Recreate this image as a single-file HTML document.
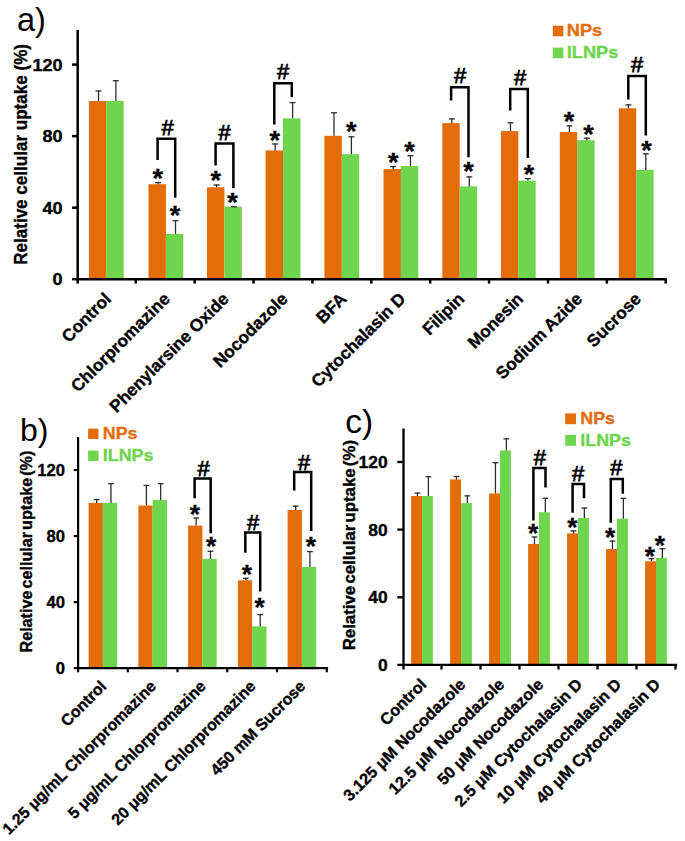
<!DOCTYPE html>
<html><head><meta charset="utf-8"><style>
html,body{margin:0;padding:0;background:#fff;}
body{width:685px;height:841px;overflow:hidden;}
svg{display:block;font-family:"Liberation Sans", sans-serif;}
</style></head><body>
<svg width="685" height="841" viewBox="0 0 685 841">
<rect width="685" height="841" fill="#fff"/>
<rect x="88.9" y="101" width="17.4" height="178.2" fill="#E36C0B"/>
<rect x="106.3" y="101" width="17.4" height="178.2" fill="#6FD44E"/>
<line x1="98.5" y1="101" x2="98.5" y2="90.4" stroke="#2e2e2e" stroke-width="1.3" stroke-linecap="butt"/>
<line x1="95.5" y1="91" x2="101.5" y2="91" stroke="#2e2e2e" stroke-width="1.3" stroke-linecap="butt"/>
<line x1="115.9" y1="101" x2="115.9" y2="80.1" stroke="#2e2e2e" stroke-width="1.3" stroke-linecap="butt"/>
<line x1="112.9" y1="80.7" x2="118.9" y2="80.7" stroke="#2e2e2e" stroke-width="1.3" stroke-linecap="butt"/>
<rect x="148.5" y="184.2" width="17.4" height="95" fill="#E36C0B"/>
<rect x="165.9" y="234" width="17.4" height="45.2" fill="#6FD44E"/>
<line x1="158.1" y1="184.2" x2="158.1" y2="182" stroke="#2e2e2e" stroke-width="1.3" stroke-linecap="butt"/>
<line x1="155.1" y1="182.6" x2="161.1" y2="182.6" stroke="#2e2e2e" stroke-width="1.3" stroke-linecap="butt"/>
<line x1="175.5" y1="234" x2="175.5" y2="220.1" stroke="#2e2e2e" stroke-width="1.3" stroke-linecap="butt"/>
<line x1="172.5" y1="220.7" x2="178.5" y2="220.7" stroke="#2e2e2e" stroke-width="1.3" stroke-linecap="butt"/>
<rect x="207" y="187.3" width="17.4" height="91.9" fill="#E36C0B"/>
<rect x="224.4" y="206.6" width="17.4" height="72.6" fill="#6FD44E"/>
<line x1="216.6" y1="187.3" x2="216.6" y2="184.4" stroke="#2e2e2e" stroke-width="1.3" stroke-linecap="butt"/>
<line x1="213.6" y1="185" x2="219.6" y2="185" stroke="#2e2e2e" stroke-width="1.3" stroke-linecap="butt"/>
<line x1="234" y1="206.6" x2="234" y2="206.2" stroke="#2e2e2e" stroke-width="1.3" stroke-linecap="butt"/>
<line x1="231" y1="206.8" x2="237" y2="206.8" stroke="#2e2e2e" stroke-width="1.3" stroke-linecap="butt"/>
<rect x="265.6" y="150.4" width="17.4" height="128.8" fill="#E36C0B"/>
<rect x="283" y="118.3" width="17.4" height="160.9" fill="#6FD44E"/>
<line x1="275.2" y1="150.4" x2="275.2" y2="143.4" stroke="#2e2e2e" stroke-width="1.3" stroke-linecap="butt"/>
<line x1="272.2" y1="144" x2="278.2" y2="144" stroke="#2e2e2e" stroke-width="1.3" stroke-linecap="butt"/>
<line x1="292.6" y1="118.3" x2="292.6" y2="102" stroke="#2e2e2e" stroke-width="1.3" stroke-linecap="butt"/>
<line x1="289.6" y1="102.6" x2="295.6" y2="102.6" stroke="#2e2e2e" stroke-width="1.3" stroke-linecap="butt"/>
<rect x="324.4" y="135.8" width="17.4" height="143.4" fill="#E36C0B"/>
<rect x="341.8" y="154.2" width="17.4" height="125" fill="#6FD44E"/>
<line x1="334" y1="135.8" x2="334" y2="112.2" stroke="#2e2e2e" stroke-width="1.3" stroke-linecap="butt"/>
<line x1="331" y1="112.8" x2="337" y2="112.8" stroke="#2e2e2e" stroke-width="1.3" stroke-linecap="butt"/>
<line x1="351.4" y1="154.2" x2="351.4" y2="136.2" stroke="#2e2e2e" stroke-width="1.3" stroke-linecap="butt"/>
<line x1="348.4" y1="136.8" x2="354.4" y2="136.8" stroke="#2e2e2e" stroke-width="1.3" stroke-linecap="butt"/>
<rect x="383.5" y="169.1" width="17.4" height="110.1" fill="#E36C0B"/>
<rect x="400.9" y="166" width="17.4" height="113.2" fill="#6FD44E"/>
<line x1="393.1" y1="169.1" x2="393.1" y2="166" stroke="#2e2e2e" stroke-width="1.3" stroke-linecap="butt"/>
<line x1="390.1" y1="166.6" x2="396.1" y2="166.6" stroke="#2e2e2e" stroke-width="1.3" stroke-linecap="butt"/>
<line x1="410.5" y1="166" x2="410.5" y2="155.1" stroke="#2e2e2e" stroke-width="1.3" stroke-linecap="butt"/>
<line x1="407.5" y1="155.7" x2="413.5" y2="155.7" stroke="#2e2e2e" stroke-width="1.3" stroke-linecap="butt"/>
<rect x="442.3" y="123.1" width="17.4" height="156.1" fill="#E36C0B"/>
<rect x="459.7" y="186.4" width="17.4" height="92.8" fill="#6FD44E"/>
<line x1="451.9" y1="123.1" x2="451.9" y2="118.3" stroke="#2e2e2e" stroke-width="1.3" stroke-linecap="butt"/>
<line x1="448.9" y1="118.9" x2="454.9" y2="118.9" stroke="#2e2e2e" stroke-width="1.3" stroke-linecap="butt"/>
<line x1="469.3" y1="186.4" x2="469.3" y2="176.3" stroke="#2e2e2e" stroke-width="1.3" stroke-linecap="butt"/>
<line x1="466.3" y1="176.9" x2="472.3" y2="176.9" stroke="#2e2e2e" stroke-width="1.3" stroke-linecap="butt"/>
<rect x="500.9" y="131.1" width="17.4" height="148.1" fill="#E36C0B"/>
<rect x="518.3" y="180.6" width="17.4" height="98.6" fill="#6FD44E"/>
<line x1="510.5" y1="131.1" x2="510.5" y2="122.2" stroke="#2e2e2e" stroke-width="1.3" stroke-linecap="butt"/>
<line x1="507.5" y1="122.8" x2="513.5" y2="122.8" stroke="#2e2e2e" stroke-width="1.3" stroke-linecap="butt"/>
<line x1="527.9" y1="180.6" x2="527.9" y2="178" stroke="#2e2e2e" stroke-width="1.3" stroke-linecap="butt"/>
<line x1="524.9" y1="178.6" x2="530.9" y2="178.6" stroke="#2e2e2e" stroke-width="1.3" stroke-linecap="butt"/>
<rect x="559.8" y="132" width="17.4" height="147.2" fill="#E36C0B"/>
<rect x="577.2" y="140.2" width="17.4" height="139" fill="#6FD44E"/>
<line x1="569.4" y1="132" x2="569.4" y2="125.3" stroke="#2e2e2e" stroke-width="1.3" stroke-linecap="butt"/>
<line x1="566.4" y1="125.9" x2="572.4" y2="125.9" stroke="#2e2e2e" stroke-width="1.3" stroke-linecap="butt"/>
<line x1="586.8" y1="140.2" x2="586.8" y2="137.6" stroke="#2e2e2e" stroke-width="1.3" stroke-linecap="butt"/>
<line x1="583.8" y1="138.2" x2="589.8" y2="138.2" stroke="#2e2e2e" stroke-width="1.3" stroke-linecap="butt"/>
<rect x="618.8" y="108.3" width="17.4" height="170.9" fill="#E36C0B"/>
<rect x="636.2" y="169.9" width="17.4" height="109.3" fill="#6FD44E"/>
<line x1="628.4" y1="108.3" x2="628.4" y2="104.3" stroke="#2e2e2e" stroke-width="1.3" stroke-linecap="butt"/>
<line x1="625.4" y1="104.9" x2="631.4" y2="104.9" stroke="#2e2e2e" stroke-width="1.3" stroke-linecap="butt"/>
<line x1="645.8" y1="169.9" x2="645.8" y2="153.3" stroke="#2e2e2e" stroke-width="1.3" stroke-linecap="butt"/>
<line x1="642.8" y1="153.9" x2="648.8" y2="153.9" stroke="#2e2e2e" stroke-width="1.3" stroke-linecap="butt"/>
<line x1="77.7" y1="30" x2="77.7" y2="280.45" stroke="#000" stroke-width="2.5" stroke-linecap="butt"/>
<line x1="76.45" y1="279.2" x2="666.75" y2="279.2" stroke="#000" stroke-width="2.5" stroke-linecap="butt"/>
<line x1="72.1" y1="279.2" x2="77.7" y2="279.2" stroke="#000" stroke-width="2.5" stroke-linecap="butt"/>
<text x="0" y="0" font-size="17.2" font-weight="bold" text-anchor="end" fill="#000"  transform="translate(62.6 285.39) scale(1.05 1)" stroke="#000" stroke-width="0.35">0</text>
<line x1="72.1" y1="207.7" x2="77.7" y2="207.7" stroke="#000" stroke-width="2.5" stroke-linecap="butt"/>
<text x="0" y="0" font-size="17.2" font-weight="bold" text-anchor="end" fill="#000"  transform="translate(62.6 213.89) scale(1.05 1)" stroke="#000" stroke-width="0.35">40</text>
<line x1="72.1" y1="136.1" x2="77.7" y2="136.1" stroke="#000" stroke-width="2.5" stroke-linecap="butt"/>
<text x="0" y="0" font-size="17.2" font-weight="bold" text-anchor="end" fill="#000"  transform="translate(62.6 142.29) scale(1.05 1)" stroke="#000" stroke-width="0.35">80</text>
<line x1="72.1" y1="64.6" x2="77.7" y2="64.6" stroke="#000" stroke-width="2.5" stroke-linecap="butt"/>
<text x="0" y="0" font-size="17.2" font-weight="bold" text-anchor="end" fill="#000"  transform="translate(62.6 70.79) scale(1.05 1)" stroke="#000" stroke-width="0.35">120</text>
<line x1="77.7" y1="279.2" x2="77.7" y2="283.6" stroke="#000" stroke-width="2.5" stroke-linecap="butt"/>
<line x1="135.79" y1="279.2" x2="135.79" y2="283.6" stroke="#000" stroke-width="2.5" stroke-linecap="butt"/>
<line x1="194.67" y1="279.2" x2="194.67" y2="283.6" stroke="#000" stroke-width="2.5" stroke-linecap="butt"/>
<line x1="253.55" y1="279.2" x2="253.55" y2="283.6" stroke="#000" stroke-width="2.5" stroke-linecap="butt"/>
<line x1="312.43" y1="279.2" x2="312.43" y2="283.6" stroke="#000" stroke-width="2.5" stroke-linecap="butt"/>
<line x1="371.31" y1="279.2" x2="371.31" y2="283.6" stroke="#000" stroke-width="2.5" stroke-linecap="butt"/>
<line x1="430.19" y1="279.2" x2="430.19" y2="283.6" stroke="#000" stroke-width="2.5" stroke-linecap="butt"/>
<line x1="489.07" y1="279.2" x2="489.07" y2="283.6" stroke="#000" stroke-width="2.5" stroke-linecap="butt"/>
<line x1="547.95" y1="279.2" x2="547.95" y2="283.6" stroke="#000" stroke-width="2.5" stroke-linecap="butt"/>
<line x1="606.83" y1="279.2" x2="606.83" y2="283.6" stroke="#000" stroke-width="2.5" stroke-linecap="butt"/>
<line x1="665.71" y1="279.2" x2="665.71" y2="283.6" stroke="#000" stroke-width="2.5" stroke-linecap="butt"/>
<text x="0" y="0" font-size="17.3" font-weight="bold" text-anchor="end" fill="#000" transform="translate(112.15 300) rotate(-45)" stroke="#000" stroke-width="0.35">Control</text>
<text x="0" y="0" font-size="17.3" font-weight="bold" text-anchor="end" fill="#000" transform="translate(171.03 300) rotate(-45)" stroke="#000" stroke-width="0.35">Chlorpromazine</text>
<text x="0" y="0" font-size="17.3" font-weight="bold" text-anchor="end" fill="#000" transform="translate(229.91 300) rotate(-45)" stroke="#000" stroke-width="0.35">Phenylarsine Oxide</text>
<text x="0" y="0" font-size="17.3" font-weight="bold" text-anchor="end" fill="#000" transform="translate(288.79 300) rotate(-45)" stroke="#000" stroke-width="0.35">Nocodazole</text>
<text x="0" y="0" font-size="17.3" font-weight="bold" text-anchor="end" fill="#000" transform="translate(347.67 300) rotate(-45)" stroke="#000" stroke-width="0.35">BFA</text>
<text x="0" y="0" font-size="17.3" font-weight="bold" text-anchor="end" fill="#000" transform="translate(406.55 300) rotate(-45)" stroke="#000" stroke-width="0.35">Cytochalasin D</text>
<text x="0" y="0" font-size="17.3" font-weight="bold" text-anchor="end" fill="#000" transform="translate(465.43 300) rotate(-45)" stroke="#000" stroke-width="0.35">Filipin</text>
<text x="0" y="0" font-size="17.3" font-weight="bold" text-anchor="end" fill="#000" transform="translate(524.31 300) rotate(-45)" stroke="#000" stroke-width="0.35">Monesin</text>
<text x="0" y="0" font-size="17.3" font-weight="bold" text-anchor="end" fill="#000" transform="translate(583.19 300) rotate(-45)" stroke="#000" stroke-width="0.35">Sodium Azide</text>
<text x="0" y="0" font-size="17.3" font-weight="bold" text-anchor="end" fill="#000" transform="translate(642.07 300) rotate(-45)" stroke="#000" stroke-width="0.35">Sucrose</text>
<text x="0" y="0" font-size="17.3" font-weight="bold" text-anchor="start" fill="#000" transform="translate(27.2 264.8) scale(1.06 1) rotate(-90)" textLength="220.8" lengthAdjust="spacingAndGlyphs" word-spacing="0" stroke="#000" stroke-width="0.35">Relative cellular uptake (%)</text>
<text x="17" y="31" font-size="32.5" font-weight="normal" text-anchor="start" fill="#000" >a)</text>
<rect x="552.8" y="25.7" width="10.6" height="10.6" fill="#E36C0B"/>
<rect x="552.8" y="47.6" width="10.6" height="10.6" fill="#6FD44E"/>
<text x="0" y="0" font-size="17.3" font-weight="bold" text-anchor="start" fill="#E36C0B"  transform="translate(566.8 36.3) scale(1.05 1)" stroke="#E36C0B" stroke-width="0.35">NPs</text>
<text x="0" y="0" font-size="17.3" font-weight="bold" text-anchor="start" fill="#6FD44E"  transform="translate(566.8 58.2) scale(1.05 1)" stroke="#6FD44E" stroke-width="0.35">ILNPs</text>
<path d="M157.6 159.9 L157.6 138.7 L175.2 138.7 L175.2 197.7" fill="none" stroke="#000" stroke-width="2.5" stroke-linejoin="miter"/>
<text x="167.5" y="134.5" font-size="22" font-weight="normal" text-anchor="middle" fill="#000" stroke="#000" stroke-width="0.75">#</text>
<path d="M215.6 165.4 L215.6 143.4 L233.4 143.4 L233.4 188.3" fill="none" stroke="#000" stroke-width="2.5" stroke-linejoin="miter"/>
<text x="224.7" y="140.1" font-size="22" font-weight="normal" text-anchor="middle" fill="#000" stroke="#000" stroke-width="0.75">#</text>
<path d="M274.3 124.5 L274.3 83.3 L291.8 83.3 L291.8 97.3" fill="none" stroke="#000" stroke-width="2.5" stroke-linejoin="miter"/>
<text x="283" y="78.9" font-size="22" font-weight="normal" text-anchor="middle" fill="#000" stroke="#000" stroke-width="0.75">#</text>
<path d="M451.1 100.5 L451.1 87.3 L468.5 87.3 L468.5 157.2" fill="none" stroke="#000" stroke-width="2.5" stroke-linejoin="miter"/>
<text x="460" y="82.9" font-size="22" font-weight="normal" text-anchor="middle" fill="#000" stroke="#000" stroke-width="0.75">#</text>
<path d="M510.2 110.4 L510.2 88.9 L527.8 88.9 L527.8 158" fill="none" stroke="#000" stroke-width="2.5" stroke-linejoin="miter"/>
<text x="520" y="84.7" font-size="22" font-weight="normal" text-anchor="middle" fill="#000" stroke="#000" stroke-width="0.75">#</text>
<path d="M628.3 99.6 L628.3 75.9 L645.8 75.9 L645.8 135.5" fill="none" stroke="#000" stroke-width="2.5" stroke-linejoin="miter"/>
<text x="637.2" y="72.4" font-size="22" font-weight="normal" text-anchor="middle" fill="#000" stroke="#000" stroke-width="0.75">#</text>
<text x="0" y="0" font-size="25.5" font-weight="bold" text-anchor="middle" fill="#000"  transform="translate(157.7 186.7) scale(1.06 1)" stroke="#000" stroke-width="0.35">*</text>
<text x="0" y="0" font-size="25.5" font-weight="bold" text-anchor="middle" fill="#000"  transform="translate(175 224.1) scale(1.06 1)" stroke="#000" stroke-width="0.35">*</text>
<text x="0" y="0" font-size="25.5" font-weight="bold" text-anchor="middle" fill="#000"  transform="translate(215.7 188.9) scale(1.06 1)" stroke="#000" stroke-width="0.35">*</text>
<text x="0" y="0" font-size="25.5" font-weight="bold" text-anchor="middle" fill="#000"  transform="translate(232.4 210.7) scale(1.06 1)" stroke="#000" stroke-width="0.35">*</text>
<text x="0" y="0" font-size="25.5" font-weight="bold" text-anchor="middle" fill="#000"  transform="translate(274.7 148.5) scale(1.06 1)" stroke="#000" stroke-width="0.35">*</text>
<text x="0" y="0" font-size="25.5" font-weight="bold" text-anchor="middle" fill="#000"  transform="translate(351.3 139.9) scale(1.06 1)" stroke="#000" stroke-width="0.35">*</text>
<text x="0" y="0" font-size="25.5" font-weight="bold" text-anchor="middle" fill="#000"  transform="translate(393.2 171) scale(1.06 1)" stroke="#000" stroke-width="0.35">*</text>
<text x="0" y="0" font-size="25.5" font-weight="bold" text-anchor="middle" fill="#000"  transform="translate(409.4 159.7) scale(1.06 1)" stroke="#000" stroke-width="0.35">*</text>
<text x="0" y="0" font-size="25.5" font-weight="bold" text-anchor="middle" fill="#000"  transform="translate(468.5 180.2) scale(1.06 1)" stroke="#000" stroke-width="0.35">*</text>
<text x="0" y="0" font-size="25.5" font-weight="bold" text-anchor="middle" fill="#000"  transform="translate(529 182.7) scale(1.06 1)" stroke="#000" stroke-width="0.35">*</text>
<text x="0" y="0" font-size="25.5" font-weight="bold" text-anchor="middle" fill="#000"  transform="translate(569.1 130.2) scale(1.06 1)" stroke="#000" stroke-width="0.35">*</text>
<text x="0" y="0" font-size="25.5" font-weight="bold" text-anchor="middle" fill="#000"  transform="translate(588.5 142.5) scale(1.06 1)" stroke="#000" stroke-width="0.35">*</text>
<text x="0" y="0" font-size="25.5" font-weight="bold" text-anchor="middle" fill="#000"  transform="translate(646.4 158.5) scale(1.06 1)" stroke="#000" stroke-width="0.35">*</text>
<rect x="88.6" y="502.9" width="14.3" height="165.2" fill="#E36C0B"/>
<rect x="102.9" y="502.9" width="14.3" height="165.2" fill="#6FD44E"/>
<line x1="96.65" y1="502.9" x2="96.65" y2="498.9" stroke="#2e2e2e" stroke-width="1.3" stroke-linecap="butt"/>
<line x1="93.8" y1="499.5" x2="99.5" y2="499.5" stroke="#2e2e2e" stroke-width="1.3" stroke-linecap="butt"/>
<line x1="110.95" y1="502.9" x2="110.95" y2="483.1" stroke="#2e2e2e" stroke-width="1.3" stroke-linecap="butt"/>
<line x1="108.1" y1="483.7" x2="113.8" y2="483.7" stroke="#2e2e2e" stroke-width="1.3" stroke-linecap="butt"/>
<rect x="138.35" y="505.5" width="14.3" height="162.6" fill="#E36C0B"/>
<rect x="152.65" y="499.9" width="14.3" height="168.2" fill="#6FD44E"/>
<line x1="146.4" y1="505.5" x2="146.4" y2="484.9" stroke="#2e2e2e" stroke-width="1.3" stroke-linecap="butt"/>
<line x1="143.55" y1="485.5" x2="149.25" y2="485.5" stroke="#2e2e2e" stroke-width="1.3" stroke-linecap="butt"/>
<line x1="160.7" y1="499.9" x2="160.7" y2="483.1" stroke="#2e2e2e" stroke-width="1.3" stroke-linecap="butt"/>
<line x1="157.85" y1="483.7" x2="163.55" y2="483.7" stroke="#2e2e2e" stroke-width="1.3" stroke-linecap="butt"/>
<rect x="188.1" y="525.6" width="14.3" height="142.5" fill="#E36C0B"/>
<rect x="202.4" y="559" width="14.3" height="109.1" fill="#6FD44E"/>
<line x1="196.15" y1="525.6" x2="196.15" y2="517.4" stroke="#2e2e2e" stroke-width="1.3" stroke-linecap="butt"/>
<line x1="193.3" y1="518" x2="199" y2="518" stroke="#2e2e2e" stroke-width="1.3" stroke-linecap="butt"/>
<line x1="210.45" y1="559" x2="210.45" y2="550.7" stroke="#2e2e2e" stroke-width="1.3" stroke-linecap="butt"/>
<line x1="207.6" y1="551.3" x2="213.3" y2="551.3" stroke="#2e2e2e" stroke-width="1.3" stroke-linecap="butt"/>
<rect x="237.85" y="580.3" width="14.3" height="87.8" fill="#E36C0B"/>
<rect x="252.15" y="626.4" width="14.3" height="41.7" fill="#6FD44E"/>
<line x1="245.9" y1="580.3" x2="245.9" y2="577.7" stroke="#2e2e2e" stroke-width="1.3" stroke-linecap="butt"/>
<line x1="243.05" y1="578.3" x2="248.75" y2="578.3" stroke="#2e2e2e" stroke-width="1.3" stroke-linecap="butt"/>
<line x1="260.2" y1="626.4" x2="260.2" y2="614" stroke="#2e2e2e" stroke-width="1.3" stroke-linecap="butt"/>
<line x1="257.35" y1="614.6" x2="263.05" y2="614.6" stroke="#2e2e2e" stroke-width="1.3" stroke-linecap="butt"/>
<rect x="287.6" y="509.9" width="14.3" height="158.2" fill="#E36C0B"/>
<rect x="301.9" y="567" width="14.3" height="101.1" fill="#6FD44E"/>
<line x1="295.65" y1="509.9" x2="295.65" y2="505.6" stroke="#2e2e2e" stroke-width="1.3" stroke-linecap="butt"/>
<line x1="292.8" y1="506.2" x2="298.5" y2="506.2" stroke="#2e2e2e" stroke-width="1.3" stroke-linecap="butt"/>
<line x1="309.95" y1="567" x2="309.95" y2="551" stroke="#2e2e2e" stroke-width="1.3" stroke-linecap="butt"/>
<line x1="307.1" y1="551.6" x2="312.8" y2="551.6" stroke="#2e2e2e" stroke-width="1.3" stroke-linecap="butt"/>
<line x1="78.1" y1="437" x2="78.1" y2="669.2" stroke="#000" stroke-width="2.2" stroke-linecap="butt"/>
<line x1="77" y1="668.1" x2="328.1" y2="668.1" stroke="#000" stroke-width="2.2" stroke-linecap="butt"/>
<line x1="73.7" y1="668.1" x2="78.1" y2="668.1" stroke="#000" stroke-width="2.2" stroke-linecap="butt"/>
<text x="0" y="0" font-size="16" font-weight="bold" text-anchor="end" fill="#000"  transform="translate(65 673.86) scale(1.04 1)" stroke="#000" stroke-width="0.35">0</text>
<line x1="73.7" y1="602.1" x2="78.1" y2="602.1" stroke="#000" stroke-width="2.2" stroke-linecap="butt"/>
<text x="0" y="0" font-size="16" font-weight="bold" text-anchor="end" fill="#000"  transform="translate(65 607.86) scale(1.04 1)" stroke="#000" stroke-width="0.35">40</text>
<line x1="73.7" y1="536.1" x2="78.1" y2="536.1" stroke="#000" stroke-width="2.2" stroke-linecap="butt"/>
<text x="0" y="0" font-size="16" font-weight="bold" text-anchor="end" fill="#000"  transform="translate(65 541.86) scale(1.04 1)" stroke="#000" stroke-width="0.35">80</text>
<line x1="73.7" y1="470" x2="78.1" y2="470" stroke="#000" stroke-width="2.2" stroke-linecap="butt"/>
<text x="0" y="0" font-size="16" font-weight="bold" text-anchor="end" fill="#000"  transform="translate(65 475.76) scale(1.04 1)" stroke="#000" stroke-width="0.35">120</text>
<line x1="78.1" y1="668.1" x2="78.1" y2="672.3" stroke="#000" stroke-width="2.2" stroke-linecap="butt"/>
<line x1="127.78" y1="668.1" x2="127.78" y2="672.3" stroke="#000" stroke-width="2.2" stroke-linecap="butt"/>
<line x1="177.53" y1="668.1" x2="177.53" y2="672.3" stroke="#000" stroke-width="2.2" stroke-linecap="butt"/>
<line x1="227.28" y1="668.1" x2="227.28" y2="672.3" stroke="#000" stroke-width="2.2" stroke-linecap="butt"/>
<line x1="277.02" y1="668.1" x2="277.02" y2="672.3" stroke="#000" stroke-width="2.2" stroke-linecap="butt"/>
<line x1="326.77" y1="668.1" x2="326.77" y2="672.3" stroke="#000" stroke-width="2.2" stroke-linecap="butt"/>
<text x="0" y="0" font-size="16" font-weight="bold" text-anchor="end" fill="#000" transform="translate(107.4 687.3) rotate(-45)" stroke="#000" stroke-width="0.35">Control</text>
<text x="0" y="0" font-size="16" font-weight="bold" text-anchor="end" fill="#000" transform="translate(157.15 687.3) rotate(-45)" stroke="#000" stroke-width="0.35">1.25 μg/mL Chlorpromazine</text>
<text x="0" y="0" font-size="16" font-weight="bold" text-anchor="end" fill="#000" transform="translate(206.9 687.3) rotate(-45)" stroke="#000" stroke-width="0.35">5 μg/mL Chlorpromazine</text>
<text x="0" y="0" font-size="16" font-weight="bold" text-anchor="end" fill="#000" transform="translate(256.65 687.3) rotate(-45)" stroke="#000" stroke-width="0.35">20 μg/mL Chlorpromazine</text>
<text x="0" y="0" font-size="16" font-weight="bold" text-anchor="end" fill="#000" transform="translate(306.4 687.3) rotate(-45)" stroke="#000" stroke-width="0.35">450 mM Sucrose</text>
<text x="0" y="0" font-size="15.5" font-weight="bold" text-anchor="start" fill="#000" transform="translate(31.6 652.5) scale(1.07 1) rotate(-90)" textLength="201.8" lengthAdjust="spacingAndGlyphs" word-spacing="-2.3" stroke="#000" stroke-width="0.35">Relative cellular uptake (%)</text>
<text x="20" y="441.4" font-size="32" font-weight="normal" text-anchor="start" fill="#000" >b)</text>
<rect x="88.1" y="428.6" width="10.4" height="10.4" fill="#E36C0B"/>
<rect x="88.1" y="450.6" width="10.4" height="10.4" fill="#6FD44E"/>
<text x="0" y="0" font-size="17" font-weight="bold" text-anchor="start" fill="#E36C0B"  transform="translate(102.8 439) scale(1.05 1)" stroke="#E36C0B" stroke-width="0.35">NPs</text>
<text x="0" y="0" font-size="17" font-weight="bold" text-anchor="start" fill="#6FD44E"  transform="translate(102.8 461) scale(1.05 1)" stroke="#6FD44E" stroke-width="0.35">ILNPs</text>
<path d="M194.6 498.2 L194.6 478.5 L210.7 478.5 L210.7 533.2" fill="none" stroke="#000" stroke-width="2.5" stroke-linejoin="miter"/>
<text x="203.7" y="476.3" font-size="22" font-weight="normal" text-anchor="middle" fill="#000" stroke="#000" stroke-width="0.75">#</text>
<path d="M245.3 552.8 L245.3 532.5 L260.2 532.5 L260.2 591.5" fill="none" stroke="#000" stroke-width="2.5" stroke-linejoin="miter"/>
<text x="253.1" y="529.6" font-size="22" font-weight="normal" text-anchor="middle" fill="#000" stroke="#000" stroke-width="0.75">#</text>
<path d="M294.2 490.6 L294.2 472 L311.2 472 L311.2 531.1" fill="none" stroke="#000" stroke-width="2.5" stroke-linejoin="miter"/>
<text x="304" y="469.6" font-size="22" font-weight="normal" text-anchor="middle" fill="#000" stroke="#000" stroke-width="0.75">#</text>
<text x="0" y="0" font-size="25" font-weight="bold" text-anchor="middle" fill="#000"  transform="translate(194.8 522.5) scale(1.05 1)" stroke="#000" stroke-width="0.35">*</text>
<text x="0" y="0" font-size="25" font-weight="bold" text-anchor="middle" fill="#000"  transform="translate(211 555) scale(1.05 1)" stroke="#000" stroke-width="0.35">*</text>
<text x="0" y="0" font-size="25" font-weight="bold" text-anchor="middle" fill="#000"  transform="translate(246.9 583) scale(1.05 1)" stroke="#000" stroke-width="0.35">*</text>
<text x="0" y="0" font-size="25" font-weight="bold" text-anchor="middle" fill="#000"  transform="translate(259.5 616) scale(1.05 1)" stroke="#000" stroke-width="0.35">*</text>
<text x="0" y="0" font-size="25" font-weight="bold" text-anchor="middle" fill="#000"  transform="translate(310.9 555) scale(1.05 1)" stroke="#000" stroke-width="0.35">*</text>
<rect x="411.1" y="496" width="10.9" height="168.9" fill="#E36C0B"/>
<rect x="422" y="496" width="10.9" height="168.9" fill="#6FD44E"/>
<line x1="417.45" y1="496" x2="417.45" y2="492.5" stroke="#2e2e2e" stroke-width="1.3" stroke-linecap="butt"/>
<line x1="414.55" y1="493.1" x2="420.35" y2="493.1" stroke="#2e2e2e" stroke-width="1.3" stroke-linecap="butt"/>
<line x1="428.35" y1="496" x2="428.35" y2="476.1" stroke="#2e2e2e" stroke-width="1.3" stroke-linecap="butt"/>
<line x1="425.45" y1="476.7" x2="431.25" y2="476.7" stroke="#2e2e2e" stroke-width="1.3" stroke-linecap="butt"/>
<rect x="450.1" y="479.4" width="10.9" height="185.5" fill="#E36C0B"/>
<rect x="461" y="503.1" width="10.9" height="161.8" fill="#6FD44E"/>
<line x1="456.45" y1="479.4" x2="456.45" y2="475.9" stroke="#2e2e2e" stroke-width="1.3" stroke-linecap="butt"/>
<line x1="453.55" y1="476.5" x2="459.35" y2="476.5" stroke="#2e2e2e" stroke-width="1.3" stroke-linecap="butt"/>
<line x1="467.35" y1="503.1" x2="467.35" y2="495.3" stroke="#2e2e2e" stroke-width="1.3" stroke-linecap="butt"/>
<line x1="464.45" y1="495.9" x2="470.25" y2="495.9" stroke="#2e2e2e" stroke-width="1.3" stroke-linecap="butt"/>
<rect x="489.1" y="493.4" width="10.9" height="171.5" fill="#E36C0B"/>
<rect x="500" y="450.5" width="10.9" height="214.4" fill="#6FD44E"/>
<line x1="495.45" y1="493.4" x2="495.45" y2="462.1" stroke="#2e2e2e" stroke-width="1.3" stroke-linecap="butt"/>
<line x1="492.55" y1="462.7" x2="498.35" y2="462.7" stroke="#2e2e2e" stroke-width="1.3" stroke-linecap="butt"/>
<line x1="506.35" y1="450.5" x2="506.35" y2="438.2" stroke="#2e2e2e" stroke-width="1.3" stroke-linecap="butt"/>
<line x1="503.45" y1="438.8" x2="509.25" y2="438.8" stroke="#2e2e2e" stroke-width="1.3" stroke-linecap="butt"/>
<rect x="528.1" y="544" width="10.9" height="120.9" fill="#E36C0B"/>
<rect x="539" y="512.3" width="10.9" height="152.6" fill="#6FD44E"/>
<line x1="534.45" y1="544" x2="534.45" y2="536.4" stroke="#2e2e2e" stroke-width="1.3" stroke-linecap="butt"/>
<line x1="531.55" y1="537" x2="537.35" y2="537" stroke="#2e2e2e" stroke-width="1.3" stroke-linecap="butt"/>
<line x1="545.35" y1="512.3" x2="545.35" y2="497.7" stroke="#2e2e2e" stroke-width="1.3" stroke-linecap="butt"/>
<line x1="542.45" y1="498.3" x2="548.25" y2="498.3" stroke="#2e2e2e" stroke-width="1.3" stroke-linecap="butt"/>
<rect x="567.1" y="533.4" width="10.9" height="131.5" fill="#E36C0B"/>
<rect x="578" y="518" width="10.9" height="146.9" fill="#6FD44E"/>
<line x1="573.45" y1="533.4" x2="573.45" y2="530.3" stroke="#2e2e2e" stroke-width="1.3" stroke-linecap="butt"/>
<line x1="570.55" y1="530.9" x2="576.35" y2="530.9" stroke="#2e2e2e" stroke-width="1.3" stroke-linecap="butt"/>
<line x1="584.35" y1="518" x2="584.35" y2="507.5" stroke="#2e2e2e" stroke-width="1.3" stroke-linecap="butt"/>
<line x1="581.45" y1="508.1" x2="587.25" y2="508.1" stroke="#2e2e2e" stroke-width="1.3" stroke-linecap="butt"/>
<rect x="606.1" y="549.1" width="10.9" height="115.8" fill="#E36C0B"/>
<rect x="617" y="518.7" width="10.9" height="146.2" fill="#6FD44E"/>
<line x1="612.45" y1="549.1" x2="612.45" y2="540.5" stroke="#2e2e2e" stroke-width="1.3" stroke-linecap="butt"/>
<line x1="609.55" y1="541.1" x2="615.35" y2="541.1" stroke="#2e2e2e" stroke-width="1.3" stroke-linecap="butt"/>
<line x1="623.35" y1="518.7" x2="623.35" y2="497.8" stroke="#2e2e2e" stroke-width="1.3" stroke-linecap="butt"/>
<line x1="620.45" y1="498.4" x2="626.25" y2="498.4" stroke="#2e2e2e" stroke-width="1.3" stroke-linecap="butt"/>
<rect x="645.1" y="561.3" width="10.9" height="103.6" fill="#E36C0B"/>
<rect x="656" y="558" width="10.9" height="106.9" fill="#6FD44E"/>
<line x1="651.45" y1="561.3" x2="651.45" y2="558" stroke="#2e2e2e" stroke-width="1.3" stroke-linecap="butt"/>
<line x1="648.55" y1="558.6" x2="654.35" y2="558.6" stroke="#2e2e2e" stroke-width="1.3" stroke-linecap="butt"/>
<line x1="662.35" y1="558" x2="662.35" y2="548.1" stroke="#2e2e2e" stroke-width="1.3" stroke-linecap="butt"/>
<line x1="659.45" y1="548.7" x2="665.25" y2="548.7" stroke="#2e2e2e" stroke-width="1.3" stroke-linecap="butt"/>
<line x1="403.5" y1="428.5" x2="403.5" y2="666.05" stroke="#000" stroke-width="2.3" stroke-linecap="butt"/>
<line x1="402.35" y1="664.9" x2="677.15" y2="664.9" stroke="#000" stroke-width="2.3" stroke-linecap="butt"/>
<line x1="397.3" y1="664.9" x2="403.5" y2="664.9" stroke="#000" stroke-width="2.3" stroke-linecap="butt"/>
<text x="0" y="0" font-size="16.6" font-weight="bold" text-anchor="end" fill="#000"  transform="translate(387.6 670.88) scale(1.05 1)" stroke="#000" stroke-width="0.35">0</text>
<line x1="397.3" y1="597.3" x2="403.5" y2="597.3" stroke="#000" stroke-width="2.3" stroke-linecap="butt"/>
<text x="0" y="0" font-size="16.6" font-weight="bold" text-anchor="end" fill="#000"  transform="translate(387.6 603.28) scale(1.05 1)" stroke="#000" stroke-width="0.35">40</text>
<line x1="397.3" y1="529.6" x2="403.5" y2="529.6" stroke="#000" stroke-width="2.3" stroke-linecap="butt"/>
<text x="0" y="0" font-size="16.6" font-weight="bold" text-anchor="end" fill="#000"  transform="translate(387.6 535.58) scale(1.05 1)" stroke="#000" stroke-width="0.35">80</text>
<line x1="397.3" y1="462" x2="403.5" y2="462" stroke="#000" stroke-width="2.3" stroke-linecap="butt"/>
<text x="0" y="0" font-size="16.6" font-weight="bold" text-anchor="end" fill="#000"  transform="translate(387.6 467.98) scale(1.05 1)" stroke="#000" stroke-width="0.35">120</text>
<line x1="403.5" y1="664.9" x2="403.5" y2="669.5" stroke="#000" stroke-width="2.3" stroke-linecap="butt"/>
<line x1="441.5" y1="664.9" x2="441.5" y2="669.5" stroke="#000" stroke-width="2.3" stroke-linecap="butt"/>
<line x1="480.5" y1="664.9" x2="480.5" y2="669.5" stroke="#000" stroke-width="2.3" stroke-linecap="butt"/>
<line x1="519.5" y1="664.9" x2="519.5" y2="669.5" stroke="#000" stroke-width="2.3" stroke-linecap="butt"/>
<line x1="558.5" y1="664.9" x2="558.5" y2="669.5" stroke="#000" stroke-width="2.3" stroke-linecap="butt"/>
<line x1="597.5" y1="664.9" x2="597.5" y2="669.5" stroke="#000" stroke-width="2.3" stroke-linecap="butt"/>
<line x1="636.5" y1="664.9" x2="636.5" y2="669.5" stroke="#000" stroke-width="2.3" stroke-linecap="butt"/>
<line x1="675.5" y1="664.9" x2="675.5" y2="669.5" stroke="#000" stroke-width="2.3" stroke-linecap="butt"/>
<text x="0" y="0" font-size="16.3" font-weight="bold" text-anchor="end" fill="#000" transform="translate(427.4 685.5) rotate(-45)" stroke="#000" stroke-width="0.35">Control</text>
<text x="0" y="0" font-size="16.3" font-weight="bold" text-anchor="end" fill="#000" transform="translate(466.4 685.5) rotate(-45)" stroke="#000" stroke-width="0.35">3.125 μM Nocodazole</text>
<text x="0" y="0" font-size="16.3" font-weight="bold" text-anchor="end" fill="#000" transform="translate(505.4 685.5) rotate(-45)" stroke="#000" stroke-width="0.35">12.5 μM Nocodazole</text>
<text x="0" y="0" font-size="16.3" font-weight="bold" text-anchor="end" fill="#000" transform="translate(544.4 685.5) rotate(-45)" stroke="#000" stroke-width="0.35">50 μM Nocodazole</text>
<text x="0" y="0" font-size="16.3" font-weight="bold" text-anchor="end" fill="#000" transform="translate(583.4 685.5) rotate(-45)" stroke="#000" stroke-width="0.35">2.5 μM Cytochalasin D</text>
<text x="0" y="0" font-size="16.3" font-weight="bold" text-anchor="end" fill="#000" transform="translate(622.4 685.5) rotate(-45)" stroke="#000" stroke-width="0.35">10 μM Cytochalasin D</text>
<text x="0" y="0" font-size="16.3" font-weight="bold" text-anchor="end" fill="#000" transform="translate(661.4 685.5) rotate(-45)" stroke="#000" stroke-width="0.35">40 μM Cytochalasin D</text>
<text x="0" y="0" font-size="16" font-weight="bold" text-anchor="start" fill="#000" transform="translate(355.2 650.3) scale(1.05 1) rotate(-90)" textLength="210.3" lengthAdjust="spacingAndGlyphs" word-spacing="-2.3" stroke="#000" stroke-width="0.35">Relative cellular uptake (%)</text>
<text x="345.3" y="432.8" font-size="33.5" font-weight="normal" text-anchor="start" fill="#000" >c)</text>
<rect x="565.2" y="413.4" width="10.8" height="10.8" fill="#E36C0B"/>
<rect x="565.2" y="435" width="10.8" height="10.8" fill="#6FD44E"/>
<text x="0" y="0" font-size="17" font-weight="bold" text-anchor="start" fill="#E36C0B"  transform="translate(580.3 424.2) scale(1.05 1)" stroke="#E36C0B" stroke-width="0.35">NPs</text>
<text x="0" y="0" font-size="17" font-weight="bold" text-anchor="start" fill="#6FD44E"  transform="translate(580.3 445.8) scale(1.05 1)" stroke="#6FD44E" stroke-width="0.35">ILNPs</text>
<path d="M533.4 520.6 L533.4 468 L545.5 468 L545.5 487.6" fill="none" stroke="#000" stroke-width="2.5" stroke-linejoin="miter"/>
<text x="539.8" y="464.5" font-size="22" font-weight="normal" text-anchor="middle" fill="#000" stroke="#000" stroke-width="0.75">#</text>
<path d="M572.6 512.8 L572.6 484.1 L584 484.1 L584 498.3" fill="none" stroke="#000" stroke-width="2.5" stroke-linejoin="miter"/>
<text x="578.2" y="480.9" font-size="22" font-weight="normal" text-anchor="middle" fill="#000" stroke="#000" stroke-width="0.75">#</text>
<path d="M610.8 522.8 L610.8 479.1 L622.8 479.1 L622.8 493.7" fill="none" stroke="#000" stroke-width="2.5" stroke-linejoin="miter"/>
<text x="616.3" y="474.5" font-size="22" font-weight="normal" text-anchor="middle" fill="#000" stroke="#000" stroke-width="0.75">#</text>
<text x="0" y="0" font-size="25" font-weight="bold" text-anchor="middle" fill="#000"  transform="translate(533 542) scale(1.05 1)" stroke="#000" stroke-width="0.35">*</text>
<text x="0" y="0" font-size="25" font-weight="bold" text-anchor="middle" fill="#000"  transform="translate(572.3 536) scale(1.05 1)" stroke="#000" stroke-width="0.35">*</text>
<text x="0" y="0" font-size="25" font-weight="bold" text-anchor="middle" fill="#000"  transform="translate(610.2 545.5) scale(1.05 1)" stroke="#000" stroke-width="0.35">*</text>
<text x="0" y="0" font-size="25" font-weight="bold" text-anchor="middle" fill="#000"  transform="translate(649.9 564.5) scale(1.05 1)" stroke="#000" stroke-width="0.35">*</text>
<text x="0" y="0" font-size="25" font-weight="bold" text-anchor="middle" fill="#000"  transform="translate(659.9 553.5) scale(1.05 1)" stroke="#000" stroke-width="0.35">*</text>
</svg>
</body></html>
